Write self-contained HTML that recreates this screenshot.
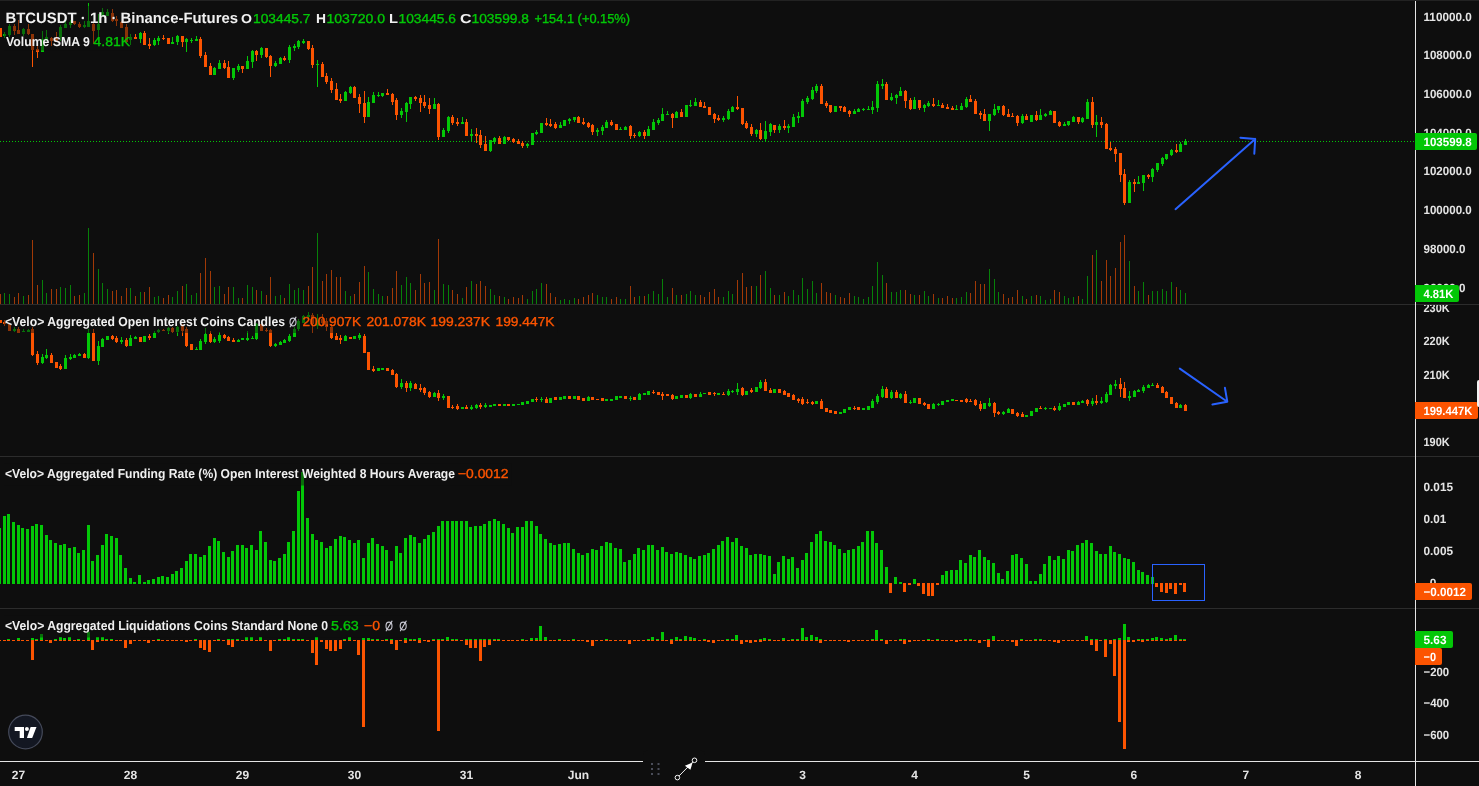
<!DOCTYPE html>
<html><head><meta charset="utf-8"><title>BTCUSDT</title>
<style>html,body{margin:0;padding:0;background:#0e0e0e;overflow:hidden}body{width:1479px;height:786px}svg{will-change:transform;transform:translateZ(0)}svg text{font-family:"Liberation Sans",sans-serif;-webkit-font-smoothing:antialiased;text-rendering:geometricPrecision}</style>
</head><body>
<svg width="1479" height="786" viewBox="0 0 1479 786" style="display:block">
<rect width="1479" height="786" fill="#0e0e0e"/>
<rect x="0" y="0" width="1479" height="1" fill="#222222"/>
<g shape-rendering="crispEdges">
<path d="M4 293h1v11h-1zM9 294h1v10h-1zM23 296h1v8h-1zM42 280h1v24h-1zM46 293h1v11h-1zM60 287h1v17h-1zM65 288h1v16h-1zM70 285h1v19h-1zM84 293h1v11h-1zM88 228h1v76h-1zM98 269h1v35h-1zM102 283h1v21h-1zM107 289h1v15h-1zM130 288h1v16h-1zM140 292h1v12h-1zM154 297h1v7h-1zM158 296h1v8h-1zM172 297h1v7h-1zM177 291h1v13h-1zM186 284h1v20h-1zM191 295h1v9h-1zM196 293h1v11h-1zM214 287h1v17h-1zM219 286h1v18h-1zM233 287h1v17h-1zM238 298h1v6h-1zM247 285h1v19h-1zM252 287h1v17h-1zM261 291h1v13h-1zM275 296h1v8h-1zM280 295h1v9h-1zM289 284h1v20h-1zM294 290h1v14h-1zM298 288h1v16h-1zM303 290h1v14h-1zM317 233h1v71h-1zM345 291h1v13h-1zM350 296h1v8h-1zM368 272h1v32h-1zM373 289h1v15h-1zM378 294h1v10h-1zM382 296h1v8h-1zM401 285h1v19h-1zM406 277h1v27h-1zM410 283h1v21h-1zM434 290h1v14h-1zM443 284h1v20h-1zM448 285h1v19h-1zM462 298h1v6h-1zM471 281h1v23h-1zM490 289h1v15h-1zM494 295h1v9h-1zM504 297h1v7h-1zM527 299h1v5h-1zM532 291h1v13h-1zM536 289h1v15h-1zM541 283h1v21h-1zM560 300h1v4h-1zM564 299h1v5h-1zM569 300h1v4h-1zM574 298h1v6h-1zM597 295h1v9h-1zM602 297h1v7h-1zM606 297h1v7h-1zM620 299h1v5h-1zM625 299h1v5h-1zM639 296h1v8h-1zM648 294h1v10h-1zM653 291h1v13h-1zM658 294h1v10h-1zM662 279h1v25h-1zM667 297h1v7h-1zM676 295h1v9h-1zM686 294h1v10h-1zM690 291h1v13h-1zM695 295h1v9h-1zM723 297h1v7h-1zM728 291h1v13h-1zM732 294h1v10h-1zM756 286h1v18h-1zM765 271h1v33h-1zM770 288h1v16h-1zM779 295h1v9h-1zM788 296h1v8h-1zM793 290h1v14h-1zM798 295h1v9h-1zM802 278h1v26h-1zM807 289h1v15h-1zM812 281h1v23h-1zM816 293h1v11h-1zM835 295h1v9h-1zM854 296h1v8h-1zM858 297h1v7h-1zM863 299h1v5h-1zM868 297h1v7h-1zM872 286h1v18h-1zM877 262h1v42h-1zM882 275h1v29h-1zM891 292h1v12h-1zM896 292h1v12h-1zM900 290h1v14h-1zM914 295h1v9h-1zM924 291h1v13h-1zM928 296h1v8h-1zM938 298h1v6h-1zM956 298h1v6h-1zM961 297h1v7h-1zM966 292h1v12h-1zM989 269h1v35h-1zM994 279h1v25h-1zM998 292h1v12h-1zM1022 296h1v8h-1zM1031 296h1v8h-1zM1040 296h1v8h-1zM1045 300h1v4h-1zM1050 299h1v5h-1zM1064 296h1v8h-1zM1068 298h1v6h-1zM1073 297h1v7h-1zM1082 299h1v5h-1zM1087 276h1v28h-1zM1096 250h1v54h-1zM1129 261h1v43h-1zM1138 291h1v13h-1zM1143 282h1v22h-1zM1152 291h1v13h-1zM1157 291h1v13h-1zM1162 289h1v15h-1zM1166 291h1v13h-1zM1171 282h1v22h-1zM1180 290h1v14h-1zM1185 293h1v11h-1z" fill="#03c707" fill-opacity="0.62"/>
<path d="M0 294h1v10h-1zM14 297h1v7h-1zM18 293h1v11h-1zM28 295h1v9h-1zM32 240h1v64h-1zM37 285h1v19h-1zM51 289h1v15h-1zM56 289h1v15h-1zM74 296h1v8h-1zM79 295h1v9h-1zM93 253h1v51h-1zM112 291h1v13h-1zM116 290h1v14h-1zM121 296h1v8h-1zM126 288h1v16h-1zM135 296h1v8h-1zM144 292h1v12h-1zM149 287h1v17h-1zM163 298h1v6h-1zM168 295h1v9h-1zM182 286h1v18h-1zM200 273h1v31h-1zM205 258h1v46h-1zM210 271h1v33h-1zM224 294h1v10h-1zM228 287h1v17h-1zM242 298h1v6h-1zM256 290h1v14h-1zM266 295h1v9h-1zM270 277h1v27h-1zM284 298h1v6h-1zM308 286h1v18h-1zM312 267h1v37h-1zM322 281h1v23h-1zM326 274h1v30h-1zM331 270h1v34h-1zM336 277h1v27h-1zM340 277h1v27h-1zM354 294h1v10h-1zM359 282h1v22h-1zM364 266h1v38h-1zM387 296h1v8h-1zM392 288h1v16h-1zM396 271h1v33h-1zM415 290h1v14h-1zM420 274h1v30h-1zM424 283h1v21h-1zM429 282h1v22h-1zM438 239h1v65h-1zM452 290h1v14h-1zM457 294h1v10h-1zM466 287h1v17h-1zM476 284h1v20h-1zM480 281h1v23h-1zM485 286h1v18h-1zM499 296h1v8h-1zM508 299h1v5h-1zM513 297h1v7h-1zM518 298h1v6h-1zM522 295h1v9h-1zM546 284h1v20h-1zM550 293h1v11h-1zM555 297h1v7h-1zM578 299h1v5h-1zM583 297h1v7h-1zM588 295h1v9h-1zM592 293h1v11h-1zM611 299h1v5h-1zM616 297h1v7h-1zM630 286h1v18h-1zM634 297h1v7h-1zM644 296h1v8h-1zM672 288h1v16h-1zM681 295h1v9h-1zM700 295h1v9h-1zM704 297h1v7h-1zM709 292h1v12h-1zM714 289h1v15h-1zM718 297h1v7h-1zM737 280h1v24h-1zM742 273h1v31h-1zM746 287h1v17h-1zM751 286h1v18h-1zM760 275h1v29h-1zM774 295h1v9h-1zM784 292h1v12h-1zM821 283h1v21h-1zM826 292h1v12h-1zM830 293h1v11h-1zM840 297h1v7h-1zM844 298h1v6h-1zM849 293h1v11h-1zM886 283h1v21h-1zM905 290h1v14h-1zM910 294h1v10h-1zM919 295h1v9h-1zM933 294h1v10h-1zM942 298h1v6h-1zM947 296h1v8h-1zM952 298h1v6h-1zM970 293h1v11h-1zM975 281h1v23h-1zM980 284h1v20h-1zM984 284h1v20h-1zM1003 294h1v10h-1zM1008 298h1v6h-1zM1012 297h1v7h-1zM1017 290h1v14h-1zM1026 299h1v5h-1zM1036 295h1v9h-1zM1054 290h1v14h-1zM1059 292h1v12h-1zM1078 296h1v8h-1zM1092 255h1v49h-1zM1101 281h1v23h-1zM1106 260h1v44h-1zM1110 276h1v28h-1zM1115 268h1v36h-1zM1120 242h1v62h-1zM1124 235h1v69h-1zM1134 286h1v18h-1zM1148 295h1v9h-1zM1176 287h1v17h-1z" fill="#fc5401" fill-opacity="0.62"/>
<path d="M0 141h1v1h-1zM3 141h1v1h-1zM6 141h1v1h-1zM9 141h1v1h-1zM12 141h1v1h-1zM15 141h1v1h-1zM18 141h1v1h-1zM21 141h1v1h-1zM24 141h1v1h-1zM27 141h1v1h-1zM30 141h1v1h-1zM33 141h1v1h-1zM36 141h1v1h-1zM39 141h1v1h-1zM42 141h1v1h-1zM45 141h1v1h-1zM48 141h1v1h-1zM51 141h1v1h-1zM54 141h1v1h-1zM57 141h1v1h-1zM60 141h1v1h-1zM63 141h1v1h-1zM66 141h1v1h-1zM69 141h1v1h-1zM72 141h1v1h-1zM75 141h1v1h-1zM78 141h1v1h-1zM81 141h1v1h-1zM84 141h1v1h-1zM87 141h1v1h-1zM90 141h1v1h-1zM93 141h1v1h-1zM96 141h1v1h-1zM99 141h1v1h-1zM102 141h1v1h-1zM105 141h1v1h-1zM108 141h1v1h-1zM111 141h1v1h-1zM114 141h1v1h-1zM117 141h1v1h-1zM120 141h1v1h-1zM123 141h1v1h-1zM126 141h1v1h-1zM129 141h1v1h-1zM132 141h1v1h-1zM135 141h1v1h-1zM138 141h1v1h-1zM141 141h1v1h-1zM144 141h1v1h-1zM147 141h1v1h-1zM150 141h1v1h-1zM153 141h1v1h-1zM156 141h1v1h-1zM159 141h1v1h-1zM162 141h1v1h-1zM165 141h1v1h-1zM168 141h1v1h-1zM171 141h1v1h-1zM174 141h1v1h-1zM177 141h1v1h-1zM180 141h1v1h-1zM183 141h1v1h-1zM186 141h1v1h-1zM189 141h1v1h-1zM192 141h1v1h-1zM195 141h1v1h-1zM198 141h1v1h-1zM201 141h1v1h-1zM204 141h1v1h-1zM207 141h1v1h-1zM210 141h1v1h-1zM213 141h1v1h-1zM216 141h1v1h-1zM219 141h1v1h-1zM222 141h1v1h-1zM225 141h1v1h-1zM228 141h1v1h-1zM231 141h1v1h-1zM234 141h1v1h-1zM237 141h1v1h-1zM240 141h1v1h-1zM243 141h1v1h-1zM246 141h1v1h-1zM249 141h1v1h-1zM252 141h1v1h-1zM255 141h1v1h-1zM258 141h1v1h-1zM261 141h1v1h-1zM264 141h1v1h-1zM267 141h1v1h-1zM270 141h1v1h-1zM273 141h1v1h-1zM276 141h1v1h-1zM279 141h1v1h-1zM282 141h1v1h-1zM285 141h1v1h-1zM288 141h1v1h-1zM291 141h1v1h-1zM294 141h1v1h-1zM297 141h1v1h-1zM300 141h1v1h-1zM303 141h1v1h-1zM306 141h1v1h-1zM309 141h1v1h-1zM312 141h1v1h-1zM315 141h1v1h-1zM318 141h1v1h-1zM321 141h1v1h-1zM324 141h1v1h-1zM327 141h1v1h-1zM330 141h1v1h-1zM333 141h1v1h-1zM336 141h1v1h-1zM339 141h1v1h-1zM342 141h1v1h-1zM345 141h1v1h-1zM348 141h1v1h-1zM351 141h1v1h-1zM354 141h1v1h-1zM357 141h1v1h-1zM360 141h1v1h-1zM363 141h1v1h-1zM366 141h1v1h-1zM369 141h1v1h-1zM372 141h1v1h-1zM375 141h1v1h-1zM378 141h1v1h-1zM381 141h1v1h-1zM384 141h1v1h-1zM387 141h1v1h-1zM390 141h1v1h-1zM393 141h1v1h-1zM396 141h1v1h-1zM399 141h1v1h-1zM402 141h1v1h-1zM405 141h1v1h-1zM408 141h1v1h-1zM411 141h1v1h-1zM414 141h1v1h-1zM417 141h1v1h-1zM420 141h1v1h-1zM423 141h1v1h-1zM426 141h1v1h-1zM429 141h1v1h-1zM432 141h1v1h-1zM435 141h1v1h-1zM438 141h1v1h-1zM441 141h1v1h-1zM444 141h1v1h-1zM447 141h1v1h-1zM450 141h1v1h-1zM453 141h1v1h-1zM456 141h1v1h-1zM459 141h1v1h-1zM462 141h1v1h-1zM465 141h1v1h-1zM468 141h1v1h-1zM471 141h1v1h-1zM474 141h1v1h-1zM477 141h1v1h-1zM480 141h1v1h-1zM483 141h1v1h-1zM486 141h1v1h-1zM489 141h1v1h-1zM492 141h1v1h-1zM495 141h1v1h-1zM498 141h1v1h-1zM501 141h1v1h-1zM504 141h1v1h-1zM507 141h1v1h-1zM510 141h1v1h-1zM513 141h1v1h-1zM516 141h1v1h-1zM519 141h1v1h-1zM522 141h1v1h-1zM525 141h1v1h-1zM528 141h1v1h-1zM531 141h1v1h-1zM534 141h1v1h-1zM537 141h1v1h-1zM540 141h1v1h-1zM543 141h1v1h-1zM546 141h1v1h-1zM549 141h1v1h-1zM552 141h1v1h-1zM555 141h1v1h-1zM558 141h1v1h-1zM561 141h1v1h-1zM564 141h1v1h-1zM567 141h1v1h-1zM570 141h1v1h-1zM573 141h1v1h-1zM576 141h1v1h-1zM579 141h1v1h-1zM582 141h1v1h-1zM585 141h1v1h-1zM588 141h1v1h-1zM591 141h1v1h-1zM594 141h1v1h-1zM597 141h1v1h-1zM600 141h1v1h-1zM603 141h1v1h-1zM606 141h1v1h-1zM609 141h1v1h-1zM612 141h1v1h-1zM615 141h1v1h-1zM618 141h1v1h-1zM621 141h1v1h-1zM624 141h1v1h-1zM627 141h1v1h-1zM630 141h1v1h-1zM633 141h1v1h-1zM636 141h1v1h-1zM639 141h1v1h-1zM642 141h1v1h-1zM645 141h1v1h-1zM648 141h1v1h-1zM651 141h1v1h-1zM654 141h1v1h-1zM657 141h1v1h-1zM660 141h1v1h-1zM663 141h1v1h-1zM666 141h1v1h-1zM669 141h1v1h-1zM672 141h1v1h-1zM675 141h1v1h-1zM678 141h1v1h-1zM681 141h1v1h-1zM684 141h1v1h-1zM687 141h1v1h-1zM690 141h1v1h-1zM693 141h1v1h-1zM696 141h1v1h-1zM699 141h1v1h-1zM702 141h1v1h-1zM705 141h1v1h-1zM708 141h1v1h-1zM711 141h1v1h-1zM714 141h1v1h-1zM717 141h1v1h-1zM720 141h1v1h-1zM723 141h1v1h-1zM726 141h1v1h-1zM729 141h1v1h-1zM732 141h1v1h-1zM735 141h1v1h-1zM738 141h1v1h-1zM741 141h1v1h-1zM744 141h1v1h-1zM747 141h1v1h-1zM750 141h1v1h-1zM753 141h1v1h-1zM756 141h1v1h-1zM759 141h1v1h-1zM762 141h1v1h-1zM765 141h1v1h-1zM768 141h1v1h-1zM771 141h1v1h-1zM774 141h1v1h-1zM777 141h1v1h-1zM780 141h1v1h-1zM783 141h1v1h-1zM786 141h1v1h-1zM789 141h1v1h-1zM792 141h1v1h-1zM795 141h1v1h-1zM798 141h1v1h-1zM801 141h1v1h-1zM804 141h1v1h-1zM807 141h1v1h-1zM810 141h1v1h-1zM813 141h1v1h-1zM816 141h1v1h-1zM819 141h1v1h-1zM822 141h1v1h-1zM825 141h1v1h-1zM828 141h1v1h-1zM831 141h1v1h-1zM834 141h1v1h-1zM837 141h1v1h-1zM840 141h1v1h-1zM843 141h1v1h-1zM846 141h1v1h-1zM849 141h1v1h-1zM852 141h1v1h-1zM855 141h1v1h-1zM858 141h1v1h-1zM861 141h1v1h-1zM864 141h1v1h-1zM867 141h1v1h-1zM870 141h1v1h-1zM873 141h1v1h-1zM876 141h1v1h-1zM879 141h1v1h-1zM882 141h1v1h-1zM885 141h1v1h-1zM888 141h1v1h-1zM891 141h1v1h-1zM894 141h1v1h-1zM897 141h1v1h-1zM900 141h1v1h-1zM903 141h1v1h-1zM906 141h1v1h-1zM909 141h1v1h-1zM912 141h1v1h-1zM915 141h1v1h-1zM918 141h1v1h-1zM921 141h1v1h-1zM924 141h1v1h-1zM927 141h1v1h-1zM930 141h1v1h-1zM933 141h1v1h-1zM936 141h1v1h-1zM939 141h1v1h-1zM942 141h1v1h-1zM945 141h1v1h-1zM948 141h1v1h-1zM951 141h1v1h-1zM954 141h1v1h-1zM957 141h1v1h-1zM960 141h1v1h-1zM963 141h1v1h-1zM966 141h1v1h-1zM969 141h1v1h-1zM972 141h1v1h-1zM975 141h1v1h-1zM978 141h1v1h-1zM981 141h1v1h-1zM984 141h1v1h-1zM987 141h1v1h-1zM990 141h1v1h-1zM993 141h1v1h-1zM996 141h1v1h-1zM999 141h1v1h-1zM1002 141h1v1h-1zM1005 141h1v1h-1zM1008 141h1v1h-1zM1011 141h1v1h-1zM1014 141h1v1h-1zM1017 141h1v1h-1zM1020 141h1v1h-1zM1023 141h1v1h-1zM1026 141h1v1h-1zM1029 141h1v1h-1zM1032 141h1v1h-1zM1035 141h1v1h-1zM1038 141h1v1h-1zM1041 141h1v1h-1zM1044 141h1v1h-1zM1047 141h1v1h-1zM1050 141h1v1h-1zM1053 141h1v1h-1zM1056 141h1v1h-1zM1059 141h1v1h-1zM1062 141h1v1h-1zM1065 141h1v1h-1zM1068 141h1v1h-1zM1071 141h1v1h-1zM1074 141h1v1h-1zM1077 141h1v1h-1zM1080 141h1v1h-1zM1083 141h1v1h-1zM1086 141h1v1h-1zM1089 141h1v1h-1zM1092 141h1v1h-1zM1095 141h1v1h-1zM1098 141h1v1h-1zM1101 141h1v1h-1zM1104 141h1v1h-1zM1107 141h1v1h-1zM1110 141h1v1h-1zM1113 141h1v1h-1zM1116 141h1v1h-1zM1119 141h1v1h-1zM1122 141h1v1h-1zM1125 141h1v1h-1zM1128 141h1v1h-1zM1131 141h1v1h-1zM1134 141h1v1h-1zM1137 141h1v1h-1zM1140 141h1v1h-1zM1143 141h1v1h-1zM1146 141h1v1h-1zM1149 141h1v1h-1zM1152 141h1v1h-1zM1155 141h1v1h-1zM1158 141h1v1h-1zM1161 141h1v1h-1zM1164 141h1v1h-1zM1167 141h1v1h-1zM1170 141h1v1h-1zM1173 141h1v1h-1zM1176 141h1v1h-1zM1179 141h1v1h-1zM1182 141h1v1h-1zM1185 141h1v1h-1zM1188 141h1v1h-1zM1191 141h1v1h-1zM1194 141h1v1h-1zM1197 141h1v1h-1zM1200 141h1v1h-1zM1203 141h1v1h-1zM1206 141h1v1h-1zM1209 141h1v1h-1zM1212 141h1v1h-1zM1215 141h1v1h-1zM1218 141h1v1h-1zM1221 141h1v1h-1zM1224 141h1v1h-1zM1227 141h1v1h-1zM1230 141h1v1h-1zM1233 141h1v1h-1zM1236 141h1v1h-1zM1239 141h1v1h-1zM1242 141h1v1h-1zM1245 141h1v1h-1zM1248 141h1v1h-1zM1251 141h1v1h-1zM1254 141h1v1h-1zM1257 141h1v1h-1zM1260 141h1v1h-1zM1263 141h1v1h-1zM1266 141h1v1h-1zM1269 141h1v1h-1zM1272 141h1v1h-1zM1275 141h1v1h-1zM1278 141h1v1h-1zM1281 141h1v1h-1zM1284 141h1v1h-1zM1287 141h1v1h-1zM1290 141h1v1h-1zM1293 141h1v1h-1zM1296 141h1v1h-1zM1299 141h1v1h-1zM1302 141h1v1h-1zM1305 141h1v1h-1zM1308 141h1v1h-1zM1311 141h1v1h-1zM1314 141h1v1h-1zM1317 141h1v1h-1zM1320 141h1v1h-1zM1323 141h1v1h-1zM1326 141h1v1h-1zM1329 141h1v1h-1zM1332 141h1v1h-1zM1335 141h1v1h-1zM1338 141h1v1h-1zM1341 141h1v1h-1zM1344 141h1v1h-1zM1347 141h1v1h-1zM1350 141h1v1h-1zM1353 141h1v1h-1zM1356 141h1v1h-1zM1359 141h1v1h-1zM1362 141h1v1h-1zM1365 141h1v1h-1zM1368 141h1v1h-1zM1371 141h1v1h-1zM1374 141h1v1h-1zM1377 141h1v1h-1zM1380 141h1v1h-1zM1383 141h1v1h-1zM1386 141h1v1h-1zM1389 141h1v1h-1zM1392 141h1v1h-1zM1395 141h1v1h-1zM1398 141h1v1h-1zM1401 141h1v1h-1zM1404 141h1v1h-1zM1407 141h1v1h-1zM1410 141h1v1h-1zM1413 141h1v1h-1z" fill="#03c707"/>
<path d="M4 32h1v6h-1zM3 34h3v2h-3zM9 24h1v13h-1zM8 26h3v9h-3zM23 28h1v8h-1zM22 29h3v5h-3zM42 31h1v21h-1zM41 39h3v13h-3zM46 30h1v11h-1zM45 37h3v3h-3zM60 25h1v16h-1zM59 27h3v10h-3zM65 21h1v7h-1zM64 24h3v4h-3zM70 20h1v8h-1zM69 22h3v3h-3zM84 21h1v7h-1zM83 25h3v2h-3zM88 3h1v24h-1zM87 21h3v6h-3zM98 14h1v30h-1zM97 24h3v6h-3zM102 8h1v9h-1zM101 12h3v4h-3zM107 9h1v7h-1zM106 12h3v4h-3zM130 34h1v11h-1zM129 37h3v3h-3zM140 32h1v11h-1zM139 33h3v6h-3zM154 38h1v8h-1zM153 40h3v5h-3zM158 36h1v9h-1zM157 38h3v3h-3zM172 37h1v7h-1zM171 42h3v2h-3zM177 35h1v10h-1zM176 36h3v6h-3zM186 38h1v14h-1zM185 39h3v3h-3zM191 38h1v5h-1zM190 40h3v1h-3zM196 36h1v5h-1zM195 39h3v2h-3zM214 67h1v8h-1zM213 68h3v7h-3zM219 60h1v9h-1zM218 63h3v6h-3zM233 68h1v12h-1zM232 68h3v10h-3zM238 64h1v8h-1zM237 66h3v4h-3zM247 56h1v13h-1zM246 61h3v8h-3zM252 50h1v18h-1zM251 51h3v11h-3zM261 47h1v11h-1zM260 48h3v7h-3zM275 61h1v6h-1zM274 63h3v3h-3zM280 57h1v7h-1zM279 58h3v6h-3zM289 45h1v18h-1zM288 47h3v13h-3zM294 44h1v7h-1zM293 46h3v2h-3zM298 40h1v9h-1zM297 41h3v6h-3zM303 39h1v5h-1zM302 41h3v2h-3zM317 60h1v27h-1zM316 64h3v1h-3zM345 91h1v10h-1zM344 92h3v9h-3zM350 86h1v8h-1zM349 87h3v6h-3zM368 97h1v20h-1zM367 102h3v15h-3zM373 92h1v11h-1zM372 95h3v8h-3zM378 92h1v5h-1zM377 95h3v1h-3zM382 93h1v4h-1zM381 93h3v3h-3zM401 108h1v10h-1zM400 111h3v4h-3zM406 102h1v20h-1zM405 103h3v9h-3zM410 97h1v12h-1zM409 97h3v7h-3zM434 98h1v11h-1zM433 104h3v5h-3zM443 128h1v9h-1zM442 130h3v7h-3zM448 116h1v17h-1zM447 117h3v14h-3zM462 117h1v7h-1zM461 122h3v2h-3zM471 129h1v13h-1zM470 134h3v2h-3zM490 140h1v12h-1zM489 140h3v11h-3zM494 137h1v7h-1zM493 138h3v4h-3zM504 136h1v8h-1zM503 137h3v7h-3zM527 143h1v5h-1zM526 144h3v2h-3zM532 133h1v12h-1zM531 133h3v12h-3zM536 130h1v5h-1zM535 132h3v2h-3zM541 123h1v10h-1zM540 123h3v10h-3zM560 122h1v6h-1zM559 125h3v3h-3zM564 120h1v6h-1zM563 120h3v6h-3zM569 118h1v6h-1zM568 119h3v2h-3zM574 117h1v5h-1zM573 117h3v3h-3zM597 128h1v8h-1zM596 130h3v2h-3zM602 125h1v10h-1zM601 127h3v4h-3zM606 120h1v8h-1zM605 122h3v6h-3zM620 127h1v3h-1zM619 129h3v1h-3zM625 126h1v4h-1zM624 127h3v3h-3zM639 131h1v6h-1zM638 132h3v4h-3zM648 126h1v10h-1zM647 129h3v7h-3zM653 119h1v11h-1zM652 122h3v8h-3zM658 118h1v7h-1zM657 120h3v3h-3zM662 108h1v13h-1zM661 114h3v7h-3zM667 111h1v4h-1zM666 114h3v1h-3zM676 111h1v7h-1zM675 112h3v6h-3zM686 105h1v12h-1zM685 105h3v12h-3zM690 100h1v7h-1zM689 105h3v1h-3zM695 98h1v8h-1zM694 102h3v4h-3zM723 116h1v6h-1zM722 118h3v2h-3zM728 109h1v11h-1zM727 111h3v8h-3zM732 106h1v6h-1zM731 107h3v5h-3zM756 129h1v8h-1zM755 130h3v4h-3zM765 121h1v21h-1zM764 131h3v8h-3zM770 123h1v13h-1zM769 124h3v8h-3zM779 124h1v9h-1zM778 126h3v4h-3zM788 124h1v9h-1zM787 126h3v2h-3zM793 114h1v13h-1zM792 117h3v10h-3zM798 112h1v11h-1zM797 116h3v2h-3zM802 99h1v18h-1zM801 101h3v16h-3zM807 96h1v8h-1zM806 98h3v4h-3zM812 87h1v13h-1zM811 90h3v9h-3zM816 84h1v9h-1zM815 86h3v5h-3zM835 106h1v6h-1zM834 106h3v6h-3zM854 109h1v5h-1zM853 111h3v3h-3zM858 108h1v4h-1zM857 109h3v3h-3zM863 108h1v3h-1zM862 109h3v1h-3zM868 106h1v4h-1zM867 109h3v1h-3zM872 101h1v13h-1zM871 107h3v3h-3zM877 81h1v31h-1zM876 84h3v24h-3zM882 79h1v10h-1zM881 84h3v2h-3zM891 93h1v8h-1zM890 97h3v3h-3zM896 94h1v10h-1zM895 95h3v3h-3zM900 87h1v9h-1zM899 91h3v5h-3zM914 97h1v12h-1zM913 100h3v9h-3zM924 104h1v8h-1zM923 105h3v3h-3zM928 101h1v6h-1zM927 103h3v3h-3zM938 100h1v6h-1zM937 105h3v1h-3zM956 105h1v5h-1zM955 109h3v1h-3zM961 103h1v7h-1zM960 106h3v4h-3zM966 97h1v11h-1zM965 99h3v8h-3zM989 114h1v17h-1zM988 114h3v7h-3zM994 104h1v12h-1zM993 109h3v6h-3zM998 106h1v7h-1zM997 106h3v4h-3zM1022 114h1v10h-1zM1021 116h3v7h-3zM1031 115h1v7h-1zM1030 115h3v7h-3zM1040 109h1v11h-1zM1039 115h3v5h-3zM1045 113h1v4h-1zM1044 114h3v2h-3zM1050 110h1v5h-1zM1049 111h3v4h-3zM1064 122h1v4h-1zM1063 124h3v2h-3zM1068 121h1v5h-1zM1067 121h3v4h-3zM1073 116h1v6h-1zM1072 117h3v5h-3zM1082 117h1v6h-1zM1081 118h3v4h-3zM1087 99h1v20h-1zM1086 102h3v17h-3zM1096 115h1v22h-1zM1095 122h3v3h-3zM1129 180h1v23h-1zM1128 182h3v21h-3zM1138 176h1v8h-1zM1137 182h3v2h-3zM1143 175h1v16h-1zM1142 175h3v8h-3zM1152 168h1v14h-1zM1151 169h3v8h-3zM1157 163h1v9h-1zM1156 163h3v7h-3zM1162 157h1v9h-1zM1161 158h3v6h-3zM1166 154h1v6h-1zM1165 154h3v5h-3zM1171 149h1v7h-1zM1170 150h3v5h-3zM1180 142h1v10h-1zM1179 144h3v8h-3zM1185 139h1v6h-1zM1184 141h3v4h-3z" fill="#03c707"/>
<path d="M0 28h1v9h-1zM-1 28h3v9h-3zM14 24h1v11h-1zM13 26h3v5h-3zM18 20h1v14h-1zM17 30h3v4h-3zM28 24h1v11h-1zM27 29h3v5h-3zM32 34h1v33h-1zM31 34h3v16h-3zM37 43h1v15h-1zM36 49h3v3h-3zM51 37h1v9h-1zM50 38h3v3h-3zM56 32h1v10h-1zM55 38h3v4h-3zM74 21h1v4h-1zM73 21h3v3h-3zM79 22h1v6h-1zM78 24h3v3h-3zM93 23h1v21h-1zM92 24h3v7h-3zM112 9h1v13h-1zM111 13h3v8h-3zM116 16h1v10h-1zM115 19h3v2h-3zM121 21h1v7h-1zM120 22h3v6h-3zM126 24h1v19h-1zM125 27h3v15h-3zM135 34h1v5h-1zM134 37h3v2h-3zM144 31h1v14h-1zM143 33h3v12h-3zM149 38h1v11h-1zM148 44h3v2h-3zM163 35h1v5h-1zM162 38h3v1h-3zM168 38h1v6h-1zM167 38h3v6h-3zM182 36h1v11h-1zM181 36h3v6h-3zM200 37h1v21h-1zM199 39h3v17h-3zM205 52h1v15h-1zM204 55h3v12h-3zM210 63h1v12h-1zM209 66h3v9h-3zM224 60h1v9h-1zM223 63h3v5h-3zM228 61h1v17h-1zM227 67h3v11h-3zM242 66h1v7h-1zM241 66h3v3h-3zM256 50h1v11h-1zM255 51h3v4h-3zM266 48h1v10h-1zM265 48h3v9h-3zM270 55h1v22h-1zM269 56h3v10h-3zM284 56h1v5h-1zM283 58h3v2h-3zM308 41h1v9h-1zM307 41h3v8h-3zM312 45h1v23h-1zM311 48h3v17h-3zM322 62h1v15h-1zM321 64h3v13h-3zM326 73h1v11h-1zM325 76h3v6h-3zM331 78h1v15h-1zM330 81h3v9h-3zM336 83h1v17h-1zM335 89h3v11h-3zM340 94h1v9h-1zM339 99h3v2h-3zM354 86h1v12h-1zM353 87h3v11h-3zM359 94h1v19h-1zM358 97h3v7h-3zM364 91h1v32h-1zM363 103h3v14h-3zM387 89h1v6h-1zM386 93h3v2h-3zM392 93h1v12h-1zM391 94h3v8h-3zM396 98h1v22h-1zM395 100h3v15h-3zM415 96h1v5h-1zM414 97h3v2h-3zM420 95h1v17h-1zM419 98h3v5h-3zM424 95h1v13h-1zM423 102h3v4h-3zM429 98h1v16h-1zM428 105h3v4h-3zM438 103h1v37h-1zM437 104h3v33h-3zM452 115h1v10h-1zM451 117h3v6h-3zM457 118h1v8h-1zM456 122h3v2h-3zM466 119h1v17h-1zM465 122h3v14h-3zM476 128h1v15h-1zM475 134h3v2h-3zM480 130h1v18h-1zM479 135h3v10h-3zM485 136h1v15h-1zM484 144h3v7h-3zM499 136h1v8h-1zM498 138h3v6h-3zM508 137h1v4h-1zM507 137h3v3h-3zM513 138h1v5h-1zM512 139h3v3h-3zM518 139h1v5h-1zM517 141h3v3h-3zM522 141h1v7h-1zM521 143h3v3h-3zM546 118h1v8h-1zM545 123h3v2h-3zM550 119h1v8h-1zM549 124h3v2h-3zM555 122h1v7h-1zM554 124h3v4h-3zM578 116h1v7h-1zM577 117h3v6h-3zM583 118h1v7h-1zM582 122h3v2h-3zM588 122h1v6h-1zM587 123h3v4h-3zM592 124h1v11h-1zM591 125h3v7h-3zM611 120h1v6h-1zM610 122h3v3h-3zM616 124h1v6h-1zM615 124h3v6h-3zM630 125h1v14h-1zM629 126h3v10h-3zM634 133h1v5h-1zM633 135h3v1h-3zM644 130h1v9h-1zM643 132h3v4h-3zM672 113h1v15h-1zM671 114h3v4h-3zM681 109h1v8h-1zM680 112h3v5h-3zM700 100h1v7h-1zM699 102h3v5h-3zM704 102h1v6h-1zM703 106h3v2h-3zM709 107h1v8h-1zM708 107h3v8h-3zM714 113h1v10h-1zM713 114h3v5h-3zM718 115h1v6h-1zM717 118h3v2h-3zM737 96h1v14h-1zM736 107h3v2h-3zM742 108h1v17h-1zM741 108h3v16h-3zM746 121h1v8h-1zM745 123h3v5h-3zM751 124h1v12h-1zM750 127h3v7h-3zM760 123h1v17h-1zM759 130h3v9h-3zM774 125h1v8h-1zM773 125h3v5h-3zM784 120h1v10h-1zM783 126h3v2h-3zM821 84h1v20h-1zM820 86h3v18h-3zM826 101h1v7h-1zM825 103h3v3h-3zM830 105h1v8h-1zM829 105h3v7h-3zM840 106h1v5h-1zM839 106h3v2h-3zM844 106h1v6h-1zM843 107h3v5h-3zM849 110h1v7h-1zM848 111h3v3h-3zM886 82h1v18h-1zM885 84h3v16h-3zM905 90h1v18h-1zM904 91h3v10h-3zM910 98h1v12h-1zM909 100h3v9h-3zM919 100h1v10h-1zM918 100h3v8h-3zM933 98h1v9h-1zM932 104h3v2h-3zM942 103h1v5h-1zM941 105h3v3h-3zM947 104h1v5h-1zM946 107h3v2h-3zM952 106h1v4h-1zM951 108h3v2h-3zM970 95h1v7h-1zM969 99h3v3h-3zM975 99h1v15h-1zM974 101h3v13h-3zM980 111h1v8h-1zM979 113h3v2h-3zM984 109h1v12h-1zM983 114h3v7h-3zM1003 105h1v11h-1zM1002 106h3v9h-3zM1008 109h1v8h-1zM1007 114h3v3h-3zM1012 113h1v4h-1zM1011 116h3v1h-3zM1017 115h1v11h-1zM1016 116h3v7h-3zM1026 114h1v6h-1zM1025 116h3v4h-3zM1036 111h1v10h-1zM1035 115h3v5h-3zM1054 111h1v12h-1zM1053 111h3v12h-3zM1059 121h1v6h-1zM1058 122h3v4h-3zM1078 117h1v7h-1zM1077 117h3v5h-3zM1092 97h1v31h-1zM1091 102h3v23h-3zM1101 117h1v11h-1zM1100 122h3v3h-3zM1106 123h1v26h-1zM1105 124h3v25h-3zM1110 142h1v9h-1zM1109 148h3v2h-3zM1115 147h1v15h-1zM1114 149h3v5h-3zM1120 153h1v29h-1zM1119 153h3v22h-3zM1124 169h1v36h-1zM1123 174h3v29h-3zM1134 179h1v13h-1zM1133 182h3v2h-3zM1148 174h1v5h-1zM1147 175h3v2h-3zM1176 144h1v9h-1zM1175 150h3v2h-3z" fill="#fc5401"/>
<path d="M14 327h1v5h-1zM13 329h3v2h-3zM23 329h1v3h-1zM22 331h3v1h-3zM28 329h1v3h-1zM27 330h3v2h-3zM42 354h1v10h-1zM41 357h3v6h-3zM46 349h1v10h-1zM45 355h3v3h-3zM65 355h1v14h-1zM64 358h3v11h-3zM70 354h1v6h-1zM69 357h3v2h-3zM74 354h1v4h-1zM73 355h3v3h-3zM79 353h1v3h-1zM78 354h3v2h-3zM88 329h1v30h-1zM87 333h3v25h-3zM98 341h1v24h-1zM97 346h3v15h-3zM102 338h1v9h-1zM101 339h3v8h-3zM107 336h1v4h-1zM106 336h3v4h-3zM121 337h1v7h-1zM120 340h3v2h-3zM130 335h1v11h-1zM129 338h3v8h-3zM135 336h1v3h-1zM134 337h3v2h-3zM144 336h1v6h-1zM143 336h3v6h-3zM154 331h1v7h-1zM153 333h3v5h-3zM158 329h1v4h-1zM157 330h3v2h-3zM168 327h1v7h-1zM167 328h3v3h-3zM177 326h1v10h-1zM176 327h3v5h-3zM196 347h1v3h-1zM195 349h3v1h-3zM200 339h1v11h-1zM199 341h3v9h-3zM205 328h1v16h-1zM204 334h3v8h-3zM214 337h1v6h-1zM213 339h3v3h-3zM219 332h1v11h-1zM218 335h3v6h-3zM238 339h1v3h-1zM237 340h3v2h-3zM242 338h1v2h-1zM241 338h3v2h-3zM247 331h1v10h-1zM246 338h3v2h-3zM252 336h1v3h-1zM251 338h3v1h-3zM256 323h1v17h-1zM255 324h3v15h-3zM275 343h1v4h-1zM274 344h3v2h-3zM280 341h1v4h-1zM279 342h3v3h-3zM284 339h1v4h-1zM283 340h3v3h-3zM289 334h1v8h-1zM288 336h3v5h-3zM294 327h1v10h-1zM293 329h3v8h-3zM298 319h1v12h-1zM297 321h3v8h-3zM303 315h1v8h-1zM302 316h3v7h-3zM308 312h1v6h-1zM307 315h3v2h-3zM317 314h1v15h-1zM316 320h3v6h-3zM345 335h1v6h-1zM344 336h3v5h-3zM354 336h1v3h-1zM353 336h3v3h-3zM359 333h1v7h-1zM358 335h3v3h-3zM378 368h1v3h-1zM377 368h3v3h-3zM382 368h1v2h-1zM381 368h3v2h-3zM401 379h1v10h-1zM400 383h3v4h-3zM410 381h1v10h-1zM409 383h3v5h-3zM434 392h1v5h-1zM433 393h3v4h-3zM443 394h1v6h-1zM442 396h3v2h-3zM462 407h1v2h-1zM461 407h3v2h-3zM471 405h1v5h-1zM470 407h3v2h-3zM476 404h1v5h-1zM475 405h3v3h-3zM485 403h1v5h-1zM484 405h3v2h-3zM490 405h1v2h-1zM489 405h3v2h-3zM494 404h1v2h-1zM493 404h3v2h-3zM504 404h1v2h-1zM503 404h3v2h-3zM513 404h1v2h-1zM512 404h3v2h-3zM518 404h1v1h-1zM517 404h3v1h-3zM522 402h1v3h-1zM521 402h3v3h-3zM527 401h1v3h-1zM526 401h3v3h-3zM532 399h1v3h-1zM531 399h3v3h-3zM541 397h1v5h-1zM540 399h3v1h-3zM550 398h1v5h-1zM549 398h3v5h-3zM560 397h1v3h-1zM559 397h3v3h-3zM564 396h1v3h-1zM563 396h3v3h-3zM574 396h1v3h-1zM573 396h3v3h-3zM588 396h1v5h-1zM587 397h3v4h-3zM606 399h1v2h-1zM605 399h3v2h-3zM611 399h1v2h-1zM610 399h3v2h-3zM616 396h1v4h-1zM615 396h3v4h-3zM620 396h1v2h-1zM619 396h3v2h-3zM630 396h1v5h-1zM629 398h3v1h-3zM639 393h1v7h-1zM638 394h3v6h-3zM644 393h1v2h-1zM643 393h3v2h-3zM648 391h1v4h-1zM647 391h3v4h-3zM676 396h1v3h-1zM675 396h3v3h-3zM681 395h1v3h-1zM680 395h3v3h-3zM690 393h1v6h-1zM689 394h3v4h-3zM700 392h1v5h-1zM699 394h3v3h-3zM704 393h1v1h-1zM703 393h3v1h-3zM718 393h1v2h-1zM717 393h3v2h-3zM728 389h1v7h-1zM727 391h3v4h-3zM732 390h1v3h-1zM731 391h3v1h-3zM737 383h1v12h-1zM736 389h3v3h-3zM746 391h1v4h-1zM745 391h3v4h-3zM756 387h1v5h-1zM755 387h3v5h-3zM760 380h1v9h-1zM759 382h3v6h-3zM774 389h1v4h-1zM773 389h3v4h-3zM816 401h1v3h-1zM815 401h3v3h-3zM840 412h1v2h-1zM839 412h3v2h-3zM844 409h1v4h-1zM843 409h3v4h-3zM849 407h1v3h-1zM848 407h3v3h-3zM863 408h1v2h-1zM862 408h3v2h-3zM868 406h1v4h-1zM867 406h3v4h-3zM872 399h1v9h-1zM871 401h3v7h-3zM877 394h1v10h-1zM876 396h3v6h-3zM882 386h1v12h-1zM881 389h3v8h-3zM891 390h1v9h-1zM890 392h3v6h-3zM900 393h1v6h-1zM899 394h3v4h-3zM910 400h1v4h-1zM909 402h3v1h-3zM914 398h1v5h-1zM913 398h3v5h-3zM933 403h1v6h-1zM932 404h3v5h-3zM938 403h1v3h-1zM937 404h3v1h-3zM942 401h1v4h-1zM941 401h3v4h-3zM947 400h1v2h-1zM946 400h3v2h-3zM952 399h1v2h-1zM951 399h3v2h-3zM984 403h1v6h-1zM983 403h3v6h-3zM989 398h1v9h-1zM988 403h3v3h-3zM1003 411h1v4h-1zM1002 412h3v2h-3zM1008 408h1v5h-1zM1007 409h3v4h-3zM1026 415h1v2h-1zM1025 415h3v2h-3zM1031 411h1v5h-1zM1030 411h3v5h-3zM1036 408h1v4h-1zM1035 408h3v4h-3zM1045 407h1v3h-1zM1044 408h3v1h-3zM1050 408h1v1h-1zM1049 408h3v1h-3zM1059 403h1v8h-1zM1058 406h3v4h-3zM1064 404h1v3h-1zM1063 404h3v3h-3zM1068 402h1v3h-1zM1067 402h3v3h-3zM1078 401h1v4h-1zM1077 402h3v3h-3zM1082 400h1v3h-1zM1081 401h3v2h-3zM1092 398h1v8h-1zM1091 401h3v3h-3zM1101 397h1v7h-1zM1100 401h3v2h-3zM1106 392h1v11h-1zM1105 394h3v8h-3zM1110 384h1v11h-1zM1109 385h3v10h-3zM1115 380h1v9h-1zM1114 384h3v2h-3zM1129 391h1v10h-1zM1128 396h3v2h-3zM1134 390h1v7h-1zM1133 391h3v6h-3zM1138 389h1v3h-1zM1137 390h3v2h-3zM1143 385h1v8h-1zM1142 387h3v4h-3zM1148 384h1v4h-1zM1147 385h3v3h-3zM1152 383h1v3h-1zM1151 385h3v1h-3zM1180 404h1v4h-1zM1179 405h3v3h-3z" fill="#03c707"/>
<path d="M0 320h1v3h-1zM-1 320h3v3h-3zM4 320h1v6h-1zM3 322h3v2h-3zM9 324h1v7h-1zM8 324h3v7h-3zM18 327h1v6h-1zM17 329h3v4h-3zM32 327h1v29h-1zM31 329h3v26h-3zM37 351h1v14h-1zM36 354h3v9h-3zM51 353h1v10h-1zM50 355h3v8h-3zM56 362h1v6h-1zM55 362h3v6h-3zM60 364h1v6h-1zM59 366h3v3h-3zM84 353h1v5h-1zM83 354h3v4h-3zM93 329h1v32h-1zM92 333h3v28h-3zM112 335h1v5h-1zM111 336h3v3h-3zM116 336h1v7h-1zM115 338h3v4h-3zM126 338h1v9h-1zM125 340h3v6h-3zM140 337h1v5h-1zM139 337h3v5h-3zM149 334h1v6h-1zM148 336h3v2h-3zM163 329h1v2h-1zM162 330h3v1h-3zM172 327h1v6h-1zM171 328h3v4h-3zM182 324h1v12h-1zM181 326h3v5h-3zM186 327h1v20h-1zM185 329h3v17h-3zM191 344h1v6h-1zM190 344h3v6h-3zM210 331h1v12h-1zM209 334h3v8h-3zM224 334h1v5h-1zM223 335h3v3h-3zM228 336h1v5h-1zM227 337h3v4h-3zM233 338h1v4h-1zM232 340h3v2h-3zM261 324h1v7h-1zM260 324h3v7h-3zM266 328h1v4h-1zM265 330h3v1h-3zM270 329h1v18h-1zM269 330h3v16h-3zM312 313h1v20h-1zM311 315h3v9h-3zM322 314h1v12h-1zM321 319h3v4h-3zM326 318h1v13h-1zM325 321h3v6h-3zM331 324h1v15h-1zM330 327h3v11h-3zM336 333h1v7h-1zM335 336h3v4h-3zM340 335h1v9h-1zM339 338h3v2h-3zM350 337h1v2h-1zM349 337h3v2h-3zM364 334h1v19h-1zM363 336h3v17h-3zM368 352h1v18h-1zM367 352h3v18h-3zM373 366h1v6h-1zM372 369h3v2h-3zM387 368h1v3h-1zM386 368h3v3h-3zM392 369h1v6h-1zM391 370h3v5h-3zM396 373h1v15h-1zM395 374h3v13h-3zM406 381h1v11h-1zM405 383h3v5h-3zM415 383h1v6h-1zM414 384h3v5h-3zM420 384h1v8h-1zM419 388h3v2h-3zM424 387h1v8h-1zM423 388h3v5h-3zM429 391h1v7h-1zM428 392h3v5h-3zM438 390h1v11h-1zM437 393h3v5h-3zM448 396h1v12h-1zM447 396h3v12h-3zM452 405h1v4h-1zM451 407h3v1h-3zM457 404h1v6h-1zM456 406h3v3h-3zM466 405h1v4h-1zM465 407h3v2h-3zM480 403h1v6h-1zM479 405h3v2h-3zM499 404h1v2h-1zM498 404h3v2h-3zM508 404h1v2h-1zM507 404h3v2h-3zM536 397h1v5h-1zM535 399h3v1h-3zM546 397h1v6h-1zM545 399h3v4h-3zM555 397h1v3h-1zM554 397h3v3h-3zM569 396h1v3h-1zM568 396h3v3h-3zM578 396h1v4h-1zM577 396h3v4h-3zM583 398h1v3h-1zM582 398h3v3h-3zM592 397h1v3h-1zM591 397h3v3h-3zM597 399h1v1h-1zM596 399h3v1h-3zM602 398h1v3h-1zM601 398h3v3h-3zM625 396h1v3h-1zM624 396h3v3h-3zM634 397h1v3h-1zM633 397h3v3h-3zM653 390h1v4h-1zM652 392h3v1h-3zM658 392h1v3h-1zM657 392h3v3h-3zM662 392h1v8h-1zM661 394h3v2h-3zM667 394h1v2h-1zM666 394h3v2h-3zM672 394h1v6h-1zM671 395h3v4h-3zM686 395h1v3h-1zM685 395h3v3h-3zM695 394h1v3h-1zM694 394h3v3h-3zM709 392h1v3h-1zM708 392h3v3h-3zM714 392h1v4h-1zM713 393h3v1h-3zM723 392h1v3h-1zM722 394h3v1h-3zM742 387h1v9h-1zM741 388h3v7h-3zM751 388h1v5h-1zM750 390h3v2h-3zM765 379h1v12h-1zM764 382h3v9h-3zM770 388h1v5h-1zM769 390h3v3h-3zM779 389h1v4h-1zM778 389h3v4h-3zM784 390h1v5h-1zM783 391h3v4h-3zM788 393h1v4h-1zM787 393h3v4h-3zM793 394h1v6h-1zM792 395h3v5h-3zM798 398h1v5h-1zM797 399h3v2h-3zM802 397h1v8h-1zM801 399h3v5h-3zM807 399h1v5h-1zM806 402h3v1h-3zM812 401h1v4h-1zM811 402h3v2h-3zM821 399h1v10h-1zM820 401h3v8h-3zM826 408h1v4h-1zM825 408h3v4h-3zM830 410h1v3h-1zM829 410h3v3h-3zM835 411h1v3h-1zM834 411h3v3h-3zM854 406h1v4h-1zM853 408h3v1h-3zM858 407h1v3h-1zM857 407h3v3h-3zM886 387h1v11h-1zM885 389h3v9h-3zM896 390h1v8h-1zM895 392h3v6h-3zM905 391h1v12h-1zM904 394h3v9h-3zM919 398h1v6h-1zM918 398h3v6h-3zM924 402h1v4h-1zM923 403h3v2h-3zM928 404h1v5h-1zM927 404h3v5h-3zM956 400h1v1h-1zM955 400h3v1h-3zM961 400h1v2h-1zM960 400h3v2h-3zM966 398h1v5h-1zM965 399h3v3h-3zM970 399h1v3h-1zM969 401h3v1h-3zM975 399h1v7h-1zM974 400h3v5h-3zM980 401h1v10h-1zM979 404h3v5h-3zM994 402h1v15h-1zM993 403h3v10h-3zM998 411h1v4h-1zM997 412h3v2h-3zM1012 409h1v5h-1zM1011 409h3v5h-3zM1017 412h1v5h-1zM1016 413h3v3h-3zM1022 412h1v5h-1zM1021 414h3v3h-3zM1040 406h1v3h-1zM1039 408h3v1h-3zM1054 406h1v5h-1zM1053 408h3v2h-3zM1073 402h1v3h-1zM1072 402h3v3h-3zM1087 399h1v7h-1zM1086 400h3v4h-3zM1096 395h1v10h-1zM1095 401h3v2h-3zM1120 378h1v19h-1zM1119 384h3v5h-3zM1124 382h1v16h-1zM1123 388h3v10h-3zM1157 383h1v5h-1zM1156 385h3v3h-3zM1162 386h1v7h-1zM1161 387h3v6h-3zM1166 391h1v7h-1zM1165 392h3v6h-3zM1171 397h1v7h-1zM1170 397h3v7h-3zM1176 402h1v6h-1zM1175 403h3v5h-3zM1185 404h1v7h-1zM1184 405h3v6h-3z" fill="#fc5401"/>
<path d="M-2 528h3v56h-3zM3 516h3v68h-3zM7 514h3v70h-3zM12 522h3v62h-3zM17 525h3v59h-3zM21 528h3v56h-3zM26 529h3v55h-3zM31 526h3v58h-3zM35 524h3v60h-3zM40 525h3v59h-3zM45 535h3v49h-3zM49 540h3v44h-3zM54 543h3v41h-3zM59 545h3v39h-3zM63 544h3v40h-3zM68 548h3v36h-3zM73 547h3v37h-3zM77 553h3v31h-3zM82 550h3v34h-3zM87 525h3v59h-3zM91 561h3v23h-3zM96 555h3v29h-3zM101 545h3v39h-3zM105 534h3v50h-3zM110 536h3v48h-3zM115 538h3v46h-3zM119 555h3v29h-3zM124 568h3v16h-3zM129 578h3v6h-3zM133 582h3v2h-3zM138 575h3v9h-3zM143 582h3v2h-3zM147 580h3v4h-3zM152 579h3v5h-3zM157 577h3v7h-3zM161 576h3v8h-3zM166 577h3v7h-3zM171 574h3v10h-3zM175 571h3v13h-3zM180 568h3v16h-3zM185 561h3v23h-3zM189 554h3v30h-3zM194 554h3v30h-3zM199 557h3v27h-3zM203 555h3v29h-3zM208 546h3v38h-3zM213 538h3v46h-3zM217 541h3v43h-3zM222 552h3v32h-3zM227 557h3v27h-3zM231 551h3v33h-3zM236 545h3v39h-3zM241 545h3v39h-3zM245 548h3v36h-3zM250 545h3v39h-3zM255 550h3v34h-3zM259 531h3v53h-3zM264 542h3v42h-3zM269 560h3v24h-3zM273 561h3v23h-3zM278 558h3v26h-3zM283 554h3v30h-3zM287 542h3v42h-3zM292 531h3v53h-3zM297 491h3v93h-3zM301 472h3v112h-3zM306 518h3v66h-3zM311 534h3v50h-3zM315 540h3v44h-3zM320 542h3v42h-3zM325 548h3v36h-3zM329 546h3v38h-3zM334 539h3v45h-3zM339 536h3v48h-3zM343 537h3v47h-3zM348 540h3v44h-3zM353 543h3v41h-3zM357 540h3v44h-3zM362 558h3v26h-3zM367 543h3v41h-3zM371 538h3v46h-3zM376 544h3v40h-3zM381 546h3v38h-3zM385 550h3v34h-3zM390 561h3v23h-3zM395 546h3v38h-3zM399 553h3v31h-3zM404 538h3v46h-3zM409 535h3v49h-3zM413 537h3v47h-3zM418 543h3v41h-3zM423 539h3v45h-3zM427 535h3v49h-3zM432 532h3v52h-3zM437 526h3v58h-3zM441 521h3v63h-3zM446 521h3v63h-3zM451 521h3v63h-3zM455 521h3v63h-3zM460 521h3v63h-3zM465 521h3v63h-3zM469 527h3v57h-3zM474 526h3v58h-3zM479 526h3v58h-3zM483 524h3v60h-3zM488 521h3v63h-3zM493 519h3v65h-3zM497 521h3v63h-3zM502 524h3v60h-3zM507 528h3v56h-3zM511 533h3v51h-3zM516 527h3v57h-3zM521 527h3v57h-3zM525 521h3v63h-3zM530 521h3v63h-3zM535 526h3v58h-3zM539 534h3v50h-3zM544 539h3v45h-3zM549 543h3v41h-3zM553 545h3v39h-3zM558 544h3v40h-3zM563 543h3v41h-3zM567 543h3v41h-3zM572 549h3v35h-3zM577 553h3v31h-3zM581 555h3v29h-3zM586 553h3v31h-3zM591 549h3v35h-3zM595 550h3v34h-3zM600 546h3v38h-3zM605 542h3v42h-3zM609 543h3v41h-3zM614 548h3v36h-3zM619 549h3v35h-3zM623 562h3v22h-3zM628 560h3v24h-3zM633 554h3v30h-3zM637 548h3v36h-3zM642 550h3v34h-3zM647 545h3v39h-3zM651 545h3v39h-3zM656 550h3v34h-3zM661 547h3v37h-3zM665 552h3v32h-3zM670 554h3v30h-3zM675 552h3v32h-3zM679 553h3v31h-3zM684 555h3v29h-3zM689 557h3v27h-3zM693 559h3v25h-3zM698 556h3v28h-3zM703 555h3v29h-3zM707 553h3v31h-3zM712 549h3v35h-3zM717 545h3v39h-3zM721 541h3v43h-3zM726 537h3v47h-3zM731 542h3v42h-3zM735 538h3v46h-3zM740 546h3v38h-3zM745 548h3v36h-3zM749 555h3v29h-3zM754 554h3v30h-3zM759 554h3v30h-3zM763 555h3v29h-3zM768 556h3v28h-3zM773 574h3v10h-3zM777 562h3v22h-3zM782 556h3v28h-3zM787 559h3v25h-3zM791 557h3v27h-3zM796 568h3v16h-3zM801 560h3v24h-3zM805 553h3v31h-3zM810 542h3v42h-3zM815 534h3v50h-3zM819 531h3v53h-3zM824 541h3v43h-3zM829 542h3v42h-3zM833 545h3v39h-3zM838 549h3v35h-3zM843 553h3v31h-3zM847 550h3v34h-3zM852 549h3v35h-3zM857 546h3v38h-3zM861 542h3v42h-3zM866 531h3v53h-3zM871 531h3v53h-3zM875 543h3v41h-3zM880 550h3v34h-3zM885 567h3v17h-3zM894 577h3v7h-3zM899 582h3v2h-3zM913 579h3v5h-3zM941 575h3v9h-3zM945 571h3v13h-3zM950 570h3v14h-3zM955 570h3v14h-3zM959 560h3v24h-3zM964 563h3v21h-3zM969 555h3v29h-3zM973 557h3v27h-3zM978 550h3v34h-3zM983 557h3v27h-3zM987 560h3v24h-3zM992 563h3v21h-3zM997 573h3v11h-3zM1001 579h3v5h-3zM1006 571h3v13h-3zM1011 555h3v29h-3zM1015 554h3v30h-3zM1020 558h3v26h-3zM1025 564h3v20h-3zM1029 581h3v3h-3zM1034 581h3v3h-3zM1039 574h3v10h-3zM1043 564h3v20h-3zM1048 556h3v28h-3zM1053 560h3v24h-3zM1057 556h3v28h-3zM1062 559h3v25h-3zM1067 550h3v34h-3zM1071 551h3v33h-3zM1076 545h3v39h-3zM1081 543h3v41h-3zM1085 540h3v44h-3zM1090 543h3v41h-3zM1095 551h3v33h-3zM1099 554h3v30h-3zM1104 554h3v30h-3zM1109 546h3v38h-3zM1113 552h3v32h-3zM1118 554h3v30h-3zM1123 558h3v26h-3zM1127 559h3v25h-3zM1132 562h3v22h-3zM1137 570h3v14h-3zM1141 572h3v12h-3zM1146 575h3v9h-3zM1151 577h3v7h-3z" fill="#03c707"/>
<path d="M889 583h3v10h-3zM903 583h3v9h-3zM908 583h3v2h-3zM917 583h3v3h-3zM922 583h3v11h-3zM927 583h3v13h-3zM931 583h3v13h-3zM936 583h3v2h-3zM1155 583h3v4h-3zM1160 583h3v9h-3zM1165 583h3v10h-3zM1169 583h3v6h-3zM1174 583h3v11h-3zM1179 583h3v2h-3zM1183 583h3v9h-3z" fill="#fc5401"/>
<path d="M-2 640h3v1h-3zM3 640h3v1h-3zM7 640h3v1h-3zM12 640h3v1h-3zM17 640h3v1h-3zM21 640h3v1h-3zM26 640h3v1h-3zM31 640h3v20h-3zM35 640h3v1h-3zM40 640h3v1h-3zM45 640h3v1h-3zM49 640h3v3h-3zM54 640h3v1h-3zM59 640h3v1h-3zM63 640h3v1h-3zM68 640h3v1h-3zM73 640h3v1h-3zM77 640h3v1h-3zM82 640h3v1h-3zM87 640h3v1h-3zM91 640h3v10h-3zM96 640h3v2h-3zM101 640h3v1h-3zM105 640h3v1h-3zM110 640h3v1h-3zM115 640h3v1h-3zM119 640h3v1h-3zM124 640h3v8h-3zM129 640h3v4h-3zM133 640h3v1h-3zM138 640h3v1h-3zM143 640h3v1h-3zM147 640h3v3h-3zM152 640h3v1h-3zM157 640h3v1h-3zM161 640h3v1h-3zM166 640h3v1h-3zM171 640h3v1h-3zM175 640h3v1h-3zM180 640h3v1h-3zM185 640h3v2h-3zM189 640h3v1h-3zM194 640h3v1h-3zM199 640h3v8h-3zM203 640h3v10h-3zM208 640h3v12h-3zM213 640h3v1h-3zM217 640h3v1h-3zM222 640h3v1h-3zM227 640h3v5h-3zM231 640h3v7h-3zM236 640h3v1h-3zM241 640h3v1h-3zM245 640h3v1h-3zM250 640h3v1h-3zM255 640h3v1h-3zM259 640h3v1h-3zM264 640h3v1h-3zM269 640h3v11h-3zM273 640h3v1h-3zM278 640h3v1h-3zM283 640h3v1h-3zM287 640h3v1h-3zM292 640h3v1h-3zM297 640h3v1h-3zM301 640h3v1h-3zM306 640h3v1h-3zM311 640h3v13h-3zM315 640h3v25h-3zM320 640h3v2h-3zM325 640h3v9h-3zM329 640h3v11h-3zM334 640h3v11h-3zM339 640h3v9h-3zM343 640h3v1h-3zM348 640h3v1h-3zM353 640h3v1h-3zM357 640h3v15h-3zM362 640h3v87h-3zM367 640h3v1h-3zM371 640h3v1h-3zM376 640h3v1h-3zM381 640h3v1h-3zM385 640h3v1h-3zM390 640h3v4h-3zM395 640h3v10h-3zM399 640h3v1h-3zM404 640h3v3h-3zM409 640h3v1h-3zM413 640h3v1h-3zM418 640h3v3h-3zM423 640h3v1h-3zM427 640h3v2h-3zM432 640h3v1h-3zM437 640h3v91h-3zM441 640h3v1h-3zM446 640h3v1h-3zM451 640h3v1h-3zM455 640h3v1h-3zM460 640h3v1h-3zM465 640h3v5h-3zM469 640h3v8h-3zM474 640h3v8h-3zM479 640h3v21h-3zM483 640h3v7h-3zM488 640h3v5h-3zM493 640h3v1h-3zM497 640h3v1h-3zM502 640h3v1h-3zM507 640h3v1h-3zM511 640h3v1h-3zM516 640h3v1h-3zM521 640h3v1h-3zM525 640h3v1h-3zM530 640h3v1h-3zM535 640h3v1h-3zM539 640h3v1h-3zM544 640h3v1h-3zM549 640h3v1h-3zM553 640h3v1h-3zM558 640h3v1h-3zM563 640h3v1h-3zM567 640h3v1h-3zM572 640h3v1h-3zM577 640h3v1h-3zM581 640h3v1h-3zM586 640h3v2h-3zM591 640h3v6h-3zM595 640h3v1h-3zM600 640h3v1h-3zM605 640h3v1h-3zM609 640h3v1h-3zM614 640h3v1h-3zM619 640h3v1h-3zM623 640h3v1h-3zM628 640h3v4h-3zM633 640h3v1h-3zM637 640h3v1h-3zM642 640h3v1h-3zM647 640h3v1h-3zM651 640h3v1h-3zM656 640h3v1h-3zM661 640h3v1h-3zM665 640h3v1h-3zM670 640h3v4h-3zM675 640h3v1h-3zM679 640h3v1h-3zM684 640h3v1h-3zM689 640h3v1h-3zM693 640h3v1h-3zM698 640h3v1h-3zM703 640h3v1h-3zM707 640h3v2h-3zM712 640h3v3h-3zM717 640h3v1h-3zM721 640h3v1h-3zM726 640h3v1h-3zM731 640h3v1h-3zM735 640h3v1h-3zM740 640h3v4h-3zM745 640h3v2h-3zM749 640h3v3h-3zM754 640h3v2h-3zM759 640h3v2h-3zM763 640h3v1h-3zM768 640h3v1h-3zM773 640h3v1h-3zM777 640h3v1h-3zM782 640h3v1h-3zM787 640h3v1h-3zM791 640h3v1h-3zM796 640h3v1h-3zM801 640h3v1h-3zM805 640h3v1h-3zM810 640h3v1h-3zM815 640h3v1h-3zM819 640h3v3h-3zM824 640h3v1h-3zM829 640h3v1h-3zM833 640h3v1h-3zM838 640h3v1h-3zM843 640h3v1h-3zM847 640h3v2h-3zM852 640h3v1h-3zM857 640h3v1h-3zM861 640h3v1h-3zM866 640h3v1h-3zM871 640h3v1h-3zM875 640h3v1h-3zM880 640h3v1h-3zM885 640h3v4h-3zM889 640h3v1h-3zM894 640h3v1h-3zM899 640h3v1h-3zM903 640h3v4h-3zM908 640h3v2h-3zM913 640h3v1h-3zM917 640h3v1h-3zM922 640h3v1h-3zM927 640h3v1h-3zM931 640h3v1h-3zM936 640h3v1h-3zM941 640h3v1h-3zM945 640h3v1h-3zM950 640h3v1h-3zM955 640h3v2h-3zM959 640h3v1h-3zM964 640h3v1h-3zM969 640h3v1h-3zM973 640h3v1h-3zM978 640h3v3h-3zM983 640h3v1h-3zM987 640h3v7h-3zM992 640h3v1h-3zM997 640h3v1h-3zM1001 640h3v1h-3zM1006 640h3v1h-3zM1011 640h3v2h-3zM1015 640h3v6h-3zM1020 640h3v1h-3zM1025 640h3v1h-3zM1029 640h3v1h-3zM1034 640h3v1h-3zM1039 640h3v1h-3zM1043 640h3v1h-3zM1048 640h3v1h-3zM1053 640h3v2h-3zM1057 640h3v3h-3zM1062 640h3v1h-3zM1067 640h3v1h-3zM1071 640h3v1h-3zM1076 640h3v1h-3zM1081 640h3v1h-3zM1085 640h3v1h-3zM1090 640h3v5h-3zM1095 640h3v11h-3zM1099 640h3v1h-3zM1104 640h3v17h-3zM1109 640h3v4h-3zM1113 640h3v36h-3zM1118 640h3v82h-3zM1123 640h3v109h-3zM1127 640h3v2h-3zM1132 640h3v2h-3zM1137 640h3v1h-3zM1141 640h3v2h-3zM1146 640h3v1h-3zM1151 640h3v1h-3zM1155 640h3v1h-3zM1160 640h3v1h-3zM1165 640h3v1h-3zM1169 640h3v1h-3zM1174 640h3v1h-3zM1179 640h3v1h-3zM1183 640h3v1h-3z" fill="#fc5401"/>
<path d="M7 639h3v1h-3zM17 638h3v2h-3zM31 638h3v2h-3zM35 639h3v1h-3zM40 634h3v6h-3zM54 639h3v1h-3zM59 637h3v3h-3zM63 638h3v2h-3zM68 637h3v3h-3zM77 639h3v1h-3zM87 632h3v8h-3zM96 637h3v3h-3zM101 637h3v3h-3zM105 639h3v1h-3zM110 639h3v1h-3zM157 639h3v1h-3zM194 639h3v1h-3zM217 639h3v1h-3zM227 639h3v1h-3zM231 639h3v1h-3zM236 639h3v1h-3zM245 637h3v3h-3zM250 637h3v3h-3zM259 637h3v3h-3zM278 639h3v1h-3zM283 639h3v1h-3zM287 637h3v3h-3zM292 639h3v1h-3zM297 639h3v1h-3zM301 639h3v1h-3zM315 637h3v3h-3zM343 639h3v1h-3zM348 637h3v3h-3zM362 638h3v2h-3zM367 638h3v2h-3zM371 639h3v1h-3zM376 639h3v1h-3zM385 639h3v1h-3zM390 639h3v1h-3zM404 638h3v2h-3zM409 639h3v1h-3zM413 639h3v1h-3zM418 638h3v2h-3zM432 639h3v1h-3zM437 639h3v1h-3zM441 639h3v1h-3zM446 637h3v3h-3zM451 639h3v1h-3zM455 639h3v1h-3zM465 639h3v1h-3zM469 639h3v1h-3zM474 639h3v1h-3zM479 639h3v1h-3zM483 639h3v1h-3zM488 639h3v1h-3zM493 639h3v1h-3zM497 639h3v1h-3zM521 639h3v1h-3zM530 638h3v2h-3zM535 638h3v2h-3zM539 626h3v14h-3zM544 637h3v3h-3zM558 639h3v1h-3zM572 639h3v1h-3zM605 639h3v1h-3zM647 639h3v1h-3zM651 637h3v3h-3zM656 639h3v1h-3zM661 632h3v8h-3zM670 639h3v1h-3zM675 637h3v3h-3zM679 639h3v1h-3zM684 636h3v4h-3zM689 637h3v3h-3zM693 638h3v2h-3zM703 639h3v1h-3zM726 639h3v1h-3zM731 639h3v1h-3zM735 635h3v5h-3zM759 639h3v1h-3zM763 638h3v2h-3zM768 639h3v1h-3zM782 638h3v2h-3zM791 639h3v1h-3zM796 639h3v1h-3zM801 628h3v12h-3zM805 637h3v3h-3zM810 635h3v5h-3zM815 637h3v3h-3zM819 639h3v1h-3zM871 639h3v1h-3zM875 630h3v10h-3zM880 639h3v1h-3zM899 639h3v1h-3zM903 639h3v1h-3zM927 639h3v1h-3zM936 639h3v1h-3zM964 639h3v1h-3zM969 639h3v1h-3zM987 639h3v1h-3zM992 636h3v4h-3zM1020 639h3v1h-3zM1034 639h3v1h-3zM1039 639h3v1h-3zM1085 636h3v4h-3zM1090 639h3v1h-3zM1095 639h3v1h-3zM1104 639h3v1h-3zM1113 639h3v1h-3zM1118 638h3v2h-3zM1123 624h3v16h-3zM1127 637h3v3h-3zM1137 639h3v1h-3zM1141 639h3v1h-3zM1146 639h3v1h-3zM1151 638h3v2h-3zM1155 637h3v3h-3zM1160 638h3v2h-3zM1165 639h3v1h-3zM1169 638h3v2h-3zM1174 635h3v5h-3zM1179 639h3v1h-3zM1183 639h3v1h-3z" fill="#03c707"/>
</g>
<rect x="4" y="6" width="629" height="22" fill="#0e0e0e" fill-opacity="0.47"/>
<rect x="4" y="28" width="129" height="22.5" fill="#0e0e0e" fill-opacity="0.47"/>
<rect x="4" y="311" width="553.5" height="22" fill="#0e0e0e" fill-opacity="0.47"/>
<rect x="4" y="463.5" width="507.5" height="22.0" fill="#0e0e0e" fill-opacity="0.47"/>
<rect x="4" y="615.5" width="407" height="22.0" fill="#0e0e0e" fill-opacity="0.47"/>
<g shape-rendering="crispEdges">
<rect x="0" y="304" width="1479" height="1" fill="#2c2c2c"/>
<rect x="0" y="456" width="1479" height="1" fill="#2c2c2c"/>
<rect x="0" y="608" width="1479" height="1" fill="#2c2c2c"/>
<rect x="0" y="761" width="1479" height="1" fill="#e4e4e4"/>
<rect x="1415" y="1" width="1" height="785" fill="#e4e4e4"/>
</g>
<defs>
<clipPath id="c1"><rect x="1416" y="1" width="63" height="303"/></clipPath>
<clipPath id="c2"><rect x="1416" y="305" width="63" height="151"/></clipPath>
<clipPath id="c3"><rect x="1416" y="457" width="63" height="151"/></clipPath>
<clipPath id="c4"><rect x="1416" y="609" width="63" height="152"/></clipPath>
</defs>
<text x="1423.5" y="20.6" font-size="12" font-weight="bold" fill="#e4e4e4" textLength="48.2" lengthAdjust="spacingAndGlyphs" clip-path="url(#c1)">110000.0</text>
<text x="1423.5" y="59.32" font-size="12" font-weight="bold" fill="#e4e4e4" textLength="48.2" lengthAdjust="spacingAndGlyphs" clip-path="url(#c1)">108000.0</text>
<text x="1423.5" y="98.04" font-size="12" font-weight="bold" fill="#e4e4e4" textLength="48.2" lengthAdjust="spacingAndGlyphs" clip-path="url(#c1)">106000.0</text>
<text x="1423.5" y="136.76" font-size="12" font-weight="bold" fill="#e4e4e4" textLength="48.2" lengthAdjust="spacingAndGlyphs" clip-path="url(#c1)">104000.0</text>
<text x="1423.5" y="175.48" font-size="12" font-weight="bold" fill="#e4e4e4" textLength="48.2" lengthAdjust="spacingAndGlyphs" clip-path="url(#c1)">102000.0</text>
<text x="1423.5" y="214.2" font-size="12" font-weight="bold" fill="#e4e4e4" textLength="48.2" lengthAdjust="spacingAndGlyphs" clip-path="url(#c1)">100000.0</text>
<text x="1423.5" y="252.92" font-size="12" font-weight="bold" fill="#e4e4e4" textLength="42" lengthAdjust="spacingAndGlyphs" clip-path="url(#c1)">98000.0</text>
<text x="1423.5" y="291.64" font-size="12" font-weight="bold" fill="#e4e4e4" textLength="42" lengthAdjust="spacingAndGlyphs" clip-path="url(#c1)">96000.0</text>
<text x="1423.5" y="311.6" font-size="12" font-weight="bold" fill="#e4e4e4" textLength="26.2" lengthAdjust="spacingAndGlyphs" clip-path="url(#c2)">230K</text>
<text x="1423.5" y="345.2" font-size="12" font-weight="bold" fill="#e4e4e4" textLength="26.2" lengthAdjust="spacingAndGlyphs" clip-path="url(#c2)">220K</text>
<text x="1423.5" y="379.2" font-size="12" font-weight="bold" fill="#e4e4e4" textLength="26.2" lengthAdjust="spacingAndGlyphs" clip-path="url(#c2)">210K</text>
<text x="1423.5" y="412.7" font-size="12" font-weight="bold" fill="#e4e4e4" textLength="26.2" lengthAdjust="spacingAndGlyphs" clip-path="url(#c2)">200K</text>
<text x="1423.5" y="446.2" font-size="12" font-weight="bold" fill="#e4e4e4" textLength="26.2" lengthAdjust="spacingAndGlyphs" clip-path="url(#c2)">190K</text>
<text x="1423.5" y="491.4" font-size="12" font-weight="bold" fill="#e4e4e4" textLength="29.5" lengthAdjust="spacingAndGlyphs" clip-path="url(#c3)">0.015</text>
<text x="1423.5" y="523.4" font-size="12" font-weight="bold" fill="#e4e4e4" textLength="22.8" lengthAdjust="spacingAndGlyphs" clip-path="url(#c3)">0.01</text>
<text x="1423.5" y="555.3" font-size="12" font-weight="bold" fill="#e4e4e4" textLength="29.5" lengthAdjust="spacingAndGlyphs" clip-path="url(#c3)">0.005</text>
<text x="1429.8" y="586.7" font-size="12" font-weight="bold" fill="#e4e4e4" textLength="6.6" lengthAdjust="spacingAndGlyphs" clip-path="url(#c3)">0</text>
<text x="1423.5" y="676.4" font-size="12" font-weight="bold" fill="#e4e4e4" textLength="25.6" lengthAdjust="spacingAndGlyphs" clip-path="url(#c4)">−200</text>
<text x="1423.5" y="706.8" font-size="12" font-weight="bold" fill="#e4e4e4" textLength="25.6" lengthAdjust="spacingAndGlyphs" clip-path="url(#c4)">−400</text>
<text x="1423.5" y="738.5" font-size="12" font-weight="bold" fill="#e4e4e4" textLength="25.6" lengthAdjust="spacingAndGlyphs" clip-path="url(#c4)">−600</text>
<path d="M1415 133H1475a2 2 0 0 1 2 2V148a2 2 0 0 1 -2 2H1415z" fill="#03c707"/>
<text x="1423.5" y="145.9" font-size="12" font-weight="bold" fill="#ffffff" textLength="48.2" lengthAdjust="spacingAndGlyphs">103599.8</text>
<path d="M1415 285H1457a2 2 0 0 1 2 2V300a2 2 0 0 1 -2 2H1415z" fill="#03c707"/>
<text x="1423.5" y="297.9" font-size="12" font-weight="bold" fill="#ffffff" textLength="30" lengthAdjust="spacingAndGlyphs">4.81K</text>
<path d="M1415 402H1476a2 2 0 0 1 2 2V417a2 2 0 0 1 -2 2H1415z" fill="#fc5401"/>
<text x="1423.5" y="414.9" font-size="12" font-weight="bold" fill="#ffffff" textLength="49" lengthAdjust="spacingAndGlyphs">199.447K</text>
<path d="M1415 583H1470a2 2 0 0 1 2 2V598a2 2 0 0 1 -2 2H1415z" fill="#fc5401"/>
<text x="1423.5" y="595.9" font-size="12" font-weight="bold" fill="#ffffff" textLength="42.5" lengthAdjust="spacingAndGlyphs">−0.0012</text>
<path d="M1415 631H1451a2 2 0 0 1 2 2V646a2 2 0 0 1 -2 2H1415z" fill="#03c707"/>
<text x="1423.5" y="643.9" font-size="12" font-weight="bold" fill="#ffffff" textLength="23" lengthAdjust="spacingAndGlyphs">5.63</text>
<path d="M1415 648H1440a2 2 0 0 1 2 2V663a2 2 0 0 1 -2 2H1415z" fill="#fc5401"/>
<text x="1423.5" y="660.9" font-size="12" font-weight="bold" fill="#ffffff" textLength="12.5" lengthAdjust="spacingAndGlyphs">−0</text>
<rect x="1477" y="380" width="6" height="27" rx="2" fill="#f2f2f2"/>
<text x="18.5" y="779" font-size="12" font-weight="bold" fill="#e4e4e4" text-anchor="middle">27</text>
<text x="130.5" y="779" font-size="12" font-weight="bold" fill="#e4e4e4" text-anchor="middle">28</text>
<text x="242.5" y="779" font-size="12" font-weight="bold" fill="#e4e4e4" text-anchor="middle">29</text>
<text x="354.5" y="779" font-size="12" font-weight="bold" fill="#e4e4e4" text-anchor="middle">30</text>
<text x="466.5" y="779" font-size="12" font-weight="bold" fill="#e4e4e4" text-anchor="middle">31</text>
<text x="578.5" y="779" font-size="12" font-weight="bold" fill="#e4e4e4" text-anchor="middle">Jun</text>
<text x="802.5" y="779" font-size="12" font-weight="bold" fill="#e4e4e4" text-anchor="middle">3</text>
<text x="914.5" y="779" font-size="12" font-weight="bold" fill="#e4e4e4" text-anchor="middle">4</text>
<text x="1026.5" y="779" font-size="12" font-weight="bold" fill="#e4e4e4" text-anchor="middle">5</text>
<text x="1133.8" y="779" font-size="12" font-weight="bold" fill="#e4e4e4" text-anchor="middle">6</text>
<text x="1245.8" y="779" font-size="12" font-weight="bold" fill="#e4e4e4" text-anchor="middle">7</text>
<text x="1358" y="779" font-size="12" font-weight="bold" fill="#e4e4e4" text-anchor="middle">8</text>
<text x="5.5" y="22.6" font-size="15" font-weight="bold" fill="#f0f0f0" textLength="232.5" lengthAdjust="spacingAndGlyphs">BTCUSDT · 1h · Binance-Futures</text>
<text x="241" y="22.6" font-size="13" font-weight="bold" fill="#f0f0f0" textLength="11" lengthAdjust="spacingAndGlyphs">O</text>
<text x="253" y="22.6" font-size="13" font-weight="normal" fill="#03c707" textLength="57.5" lengthAdjust="spacingAndGlyphs" stroke="#03c707" stroke-width="0.35">103445.7</text>
<text x="316" y="22.6" font-size="13" font-weight="bold" fill="#f0f0f0" textLength="10" lengthAdjust="spacingAndGlyphs">H</text>
<text x="326.5" y="22.6" font-size="13" font-weight="normal" fill="#03c707" textLength="58.5" lengthAdjust="spacingAndGlyphs" stroke="#03c707" stroke-width="0.35">103720.0</text>
<text x="389" y="22.6" font-size="13" font-weight="bold" fill="#f0f0f0" textLength="9" lengthAdjust="spacingAndGlyphs">L</text>
<text x="398.5" y="22.6" font-size="13" font-weight="normal" fill="#03c707" textLength="57.5" lengthAdjust="spacingAndGlyphs" stroke="#03c707" stroke-width="0.35">103445.6</text>
<text x="460" y="22.6" font-size="13" font-weight="bold" fill="#f0f0f0" textLength="11.5" lengthAdjust="spacingAndGlyphs">C</text>
<text x="471.5" y="22.6" font-size="13" font-weight="normal" fill="#03c707" textLength="57.5" lengthAdjust="spacingAndGlyphs" stroke="#03c707" stroke-width="0.35">103599.8</text>
<text x="534.5" y="22.6" font-size="13" font-weight="normal" fill="#03c707" textLength="95.5" lengthAdjust="spacingAndGlyphs" stroke="#03c707" stroke-width="0.35">+154.1 (+0.15%)</text>
<text x="6" y="46" font-size="13" font-weight="bold" fill="#f0f0f0" textLength="83.8" lengthAdjust="spacingAndGlyphs">Volume SMA 9</text>
<text x="93.5" y="46" font-size="13" font-weight="normal" fill="#03c707" textLength="36.5" lengthAdjust="spacingAndGlyphs" stroke="#03c707" stroke-width="0.35">4.81K</text>
<text x="5" y="326" font-size="13" font-weight="bold" fill="#f0f0f0" textLength="280" lengthAdjust="spacingAndGlyphs">&lt;Velo&gt; Aggregated Open Interest Coins Candles</text>
<g fill="none" stroke="#c9c9d3" stroke-width="1.1" stroke-linecap="round"><ellipse cx="293" cy="322" rx="3" ry="3.9"/><path d="M290.2 326.8L296 317.1"/></g>
<text x="302.5" y="326" font-size="13" font-weight="normal" fill="#fc5401" textLength="58.5" lengthAdjust="spacingAndGlyphs" stroke="#fc5401" stroke-width="0.35">200.907K</text>
<text x="366.5" y="326" font-size="13" font-weight="normal" fill="#fc5401" textLength="59.5" lengthAdjust="spacingAndGlyphs" stroke="#fc5401" stroke-width="0.35">201.078K</text>
<text x="430.5" y="326" font-size="13" font-weight="normal" fill="#fc5401" textLength="59.5" lengthAdjust="spacingAndGlyphs" stroke="#fc5401" stroke-width="0.35">199.237K</text>
<text x="495.5" y="326" font-size="13" font-weight="normal" fill="#fc5401" textLength="59" lengthAdjust="spacingAndGlyphs" stroke="#fc5401" stroke-width="0.35">199.447K</text>
<text x="5" y="478" font-size="13" font-weight="bold" fill="#f0f0f0" textLength="450" lengthAdjust="spacingAndGlyphs">&lt;Velo&gt; Aggregated Funding Rate (%) Open Interest Weighted 8 Hours Average</text>
<text x="458" y="478" font-size="13" font-weight="normal" fill="#fc5401" textLength="50.5" lengthAdjust="spacingAndGlyphs" stroke="#fc5401" stroke-width="0.35">−0.0012</text>
<text x="5" y="630" font-size="13" font-weight="bold" fill="#f0f0f0" textLength="323" lengthAdjust="spacingAndGlyphs">&lt;Velo&gt; Aggregated Liquidations Coins Standard None 0</text>
<text x="331" y="630" font-size="13" font-weight="normal" fill="#03c707" textLength="27.8" lengthAdjust="spacingAndGlyphs" stroke="#03c707" stroke-width="0.35">5.63</text>
<text x="364" y="630" font-size="13" font-weight="normal" fill="#fc5401" textLength="16" lengthAdjust="spacingAndGlyphs" stroke="#fc5401" stroke-width="0.35">−0</text>
<g fill="none" stroke="#c9c9d3" stroke-width="1.1" stroke-linecap="round"><ellipse cx="389" cy="626" rx="3" ry="3.9"/><path d="M386.2 630.8L392 621.1"/></g>
<g fill="none" stroke="#c9c9d3" stroke-width="1.1" stroke-linecap="round"><ellipse cx="403.2" cy="626" rx="3" ry="3.9"/><path d="M400.4 630.8L406.2 621.1"/></g>
<g fill="none" stroke="#2962ff" stroke-width="2" stroke-linecap="round" stroke-linejoin="round">
<path d="M1175.5 209.2L1255.2 138.9M1240.4 137.7L1255.2 138.9L1254.3 153.8"/>
<path d="M1179.8 368.6L1227.3 401.7M1224.9 387.7L1227.3 401.7L1212.4 404.6"/>
</g>
<rect x="1152.5" y="564.5" width="52" height="36" fill="none" stroke="#2962ff" stroke-width="1"/>
<circle cx="25.5" cy="732" r="16.8" fill="#131722" stroke="#454a5a" stroke-width="1.2"/>
<path d="M14.7 727H24V738H19.7V731.1H14.7z" fill="#fff"/>
<circle cx="26.9" cy="729" r="2" fill="#fff"/>
<path d="M30.6 727H36.5L32.2 738H26.9z" fill="#fff"/>
<rect x="643" y="750" width="62" height="44" rx="5" fill="#0e0e0e"/>
<rect x="651" y="763" width="2" height="2" fill="#4a4d59"/>
<rect x="651" y="768" width="2" height="2" fill="#4a4d59"/>
<rect x="651" y="773" width="2" height="2" fill="#4a4d59"/>
<rect x="657.5" y="763" width="2" height="2" fill="#4a4d59"/>
<rect x="657.5" y="768" width="2" height="2" fill="#4a4d59"/>
<rect x="657.5" y="773" width="2" height="2" fill="#4a4d59"/>
<g stroke="#fff" stroke-width="0.95" fill="none">
<path d="M679.1 775.9L692.8 762"/>
<circle cx="677.4" cy="777.6" r="2.3" fill="#0e0e0e"/>
<circle cx="694.5" cy="760.3" r="2.3" fill="#0e0e0e"/>
</g>
<path d="M692.6 762.4L684.9 765.8L690.4 769.8z" fill="#fff"/>
</svg>
</body></html>
